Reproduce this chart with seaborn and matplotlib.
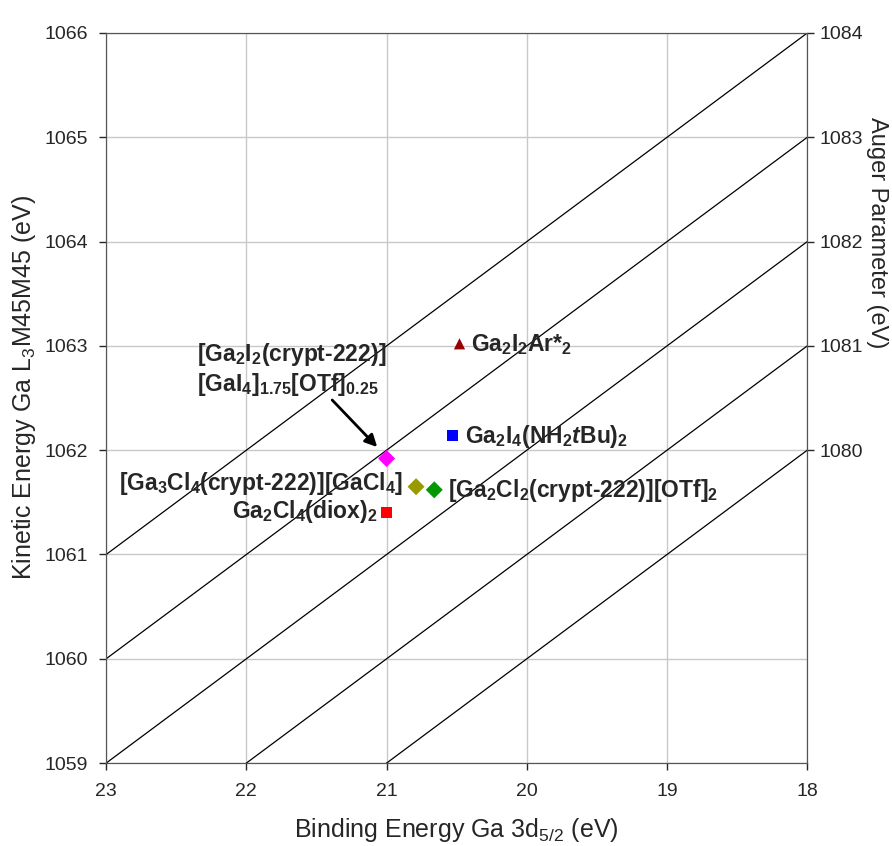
import matplotlib
matplotlib.use("Agg")
import matplotlib.pyplot as plt
import seaborn as sns
import pandas as pd
import numpy as np

# data
compounds = ["Ga2I2Ar*2", "Ga2I4(NH2tBu)2", "[Ga2I2(crypt-222)][GaI4]1.75[OTf]0.25",
             "[Ga3Cl4(crypt-222)][GaCl4]", "[Ga2Cl2(crypt-222)][OTf]2", "Ga2Cl4(diox)2"]
binding = [20.48, 20.53, 21.00, 20.79, 20.66, 21.00]
kinetic = [1063.02, 1062.14, 1061.92, 1061.65, 1061.62, 1061.40]
colors = ["#990000", "#0000ff", "#ff00ff", "#999900", "#009900", "#ff0000"]
markers = ["^", "s", "D", "D", "D", "s"]
msizes = [65, 60, 75, 75, 75, 60]
auger = [1080, 1081, 1082, 1083, 1084]
x_ticks = [23, 22, 21, 20, 19, 18]
y_ticks = [1059, 1060, 1061, 1062, 1063, 1064, 1065, 1066]

sns.set_style("ticks")
plt.rcParams['font.family'] = ['Liberation Sans', 'DejaVu Sans']
plt.rcParams['mathtext.fontset'] = 'custom'
plt.rcParams['mathtext.bf'] = 'Liberation Sans:bold'
plt.rcParams['mathtext.rm'] = 'Liberation Sans'
plt.rcParams['mathtext.it'] = 'Liberation Sans:bold:italic'
plt.rcParams['mathtext.default'] = 'bf'

fig = plt.figure(figsize=(8.92, 8.46), dpi=100)
ax = fig.add_axes([0.119, 0.098, 0.786, 0.863])

# auger parameter lines: KE = AP - BE
be = np.array([18.0, 23.0])
for ap in auger:
    sns.lineplot(x=be, y=ap - be, ax=ax, color="black", lw=0.9, zorder=2)

df = pd.DataFrame({"be": binding, "ke": kinetic, "name": compounds})
for i, row in df.iterrows():
    sns.scatterplot(x=[row.be], y=[row.ke], ax=ax, color=colors[i], marker=markers[i],
                    s=msizes[i], edgecolor="none", zorder=4)

ax.set_xlim(23, 18)
ax.set_ylim(1059, 1066)
ax.set_xticks(x_ticks)
ax.set_yticks(y_ticks)
ax.grid(True, color="#c8c8c8", lw=1.0)
ax.set_axisbelow(True)
ax.tick_params(axis="y", labelsize=14, direction="out", length=5, width=1, pad=8)
ax.tick_params(axis="x", labelsize=14, direction="out", length=5, width=1, pad=9)
for s in ax.spines.values():
    s.set_color("#555555")

ax.set_xlabel("Binding Energy Ga 3d$_{\\mathrm{5/2}}$ (eV)", fontsize=18)
ax.xaxis.set_label_coords(0.5, -0.072)
ax.set_ylabel("Kinetic Energy Ga L$_{\\mathrm{3}}$M45M45 (eV)", fontsize=18)
ax.yaxis.set_label_coords(-0.097, 0.515)

ax2 = ax.twinx()
ax2.set_ylim(1059, 1066)
ax2.set_yticks([a - 18 for a in auger])
ax2.set_yticklabels([str(a) for a in auger])
ax2.tick_params(labelsize=14, direction="out", length=5, width=1, pad=4)
ax2.set_ylabel("Auger Parameter (eV)", fontsize=17, rotation=270, va="center")
ax2.yaxis.set_label_coords(1.100, 0.726)
for s in ax2.spines.values():
    s.set_color("#555555")

fs = 16.5
tk = dict(fontsize=fs, fontweight="bold", va="baseline")
ax.text(20.397, 1062.951, "Ga$_2$I$_2$Ar*$_2$", ha="left", **tk)
ax.text(20.44, 1062.069, "Ga$_2$I$_4$(NH$_2$$\\mathit{t}$Bu)$_2$", ha="left", **tk)
ax.text(22.351, 1062.855, "[Ga$_2$I$_2$(crypt-222)]", ha="left", **tk)
ax.text(22.351, 1062.567, "[GaI$_4$]$_{1.75}$[OTf]$_{0.25}$", ha="left", **tk)
ax.text(20.882, 1061.618, "[Ga$_3$Cl$_4$(crypt-222)][GaCl$_4$]", ha="right", **tk)
ax.text(20.561, 1061.551, "[Ga$_2$Cl$_2$(crypt-222)][OTf]$_2$", ha="left", **tk)
ax.text(21.067, 1061.349, "Ga$_2$Cl$_4$(diox)$_2$", ha="right", **tk)
ax.annotate("", xy=(21.067, 1062.03), xytext=(21.388, 1062.481),
            arrowprops=dict(arrowstyle="-|>", color="black", lw=2.0, mutation_scale=18,
                            shrinkA=0, shrinkB=0))

fig.savefig("out.png", dpi=100)
plt.close()
